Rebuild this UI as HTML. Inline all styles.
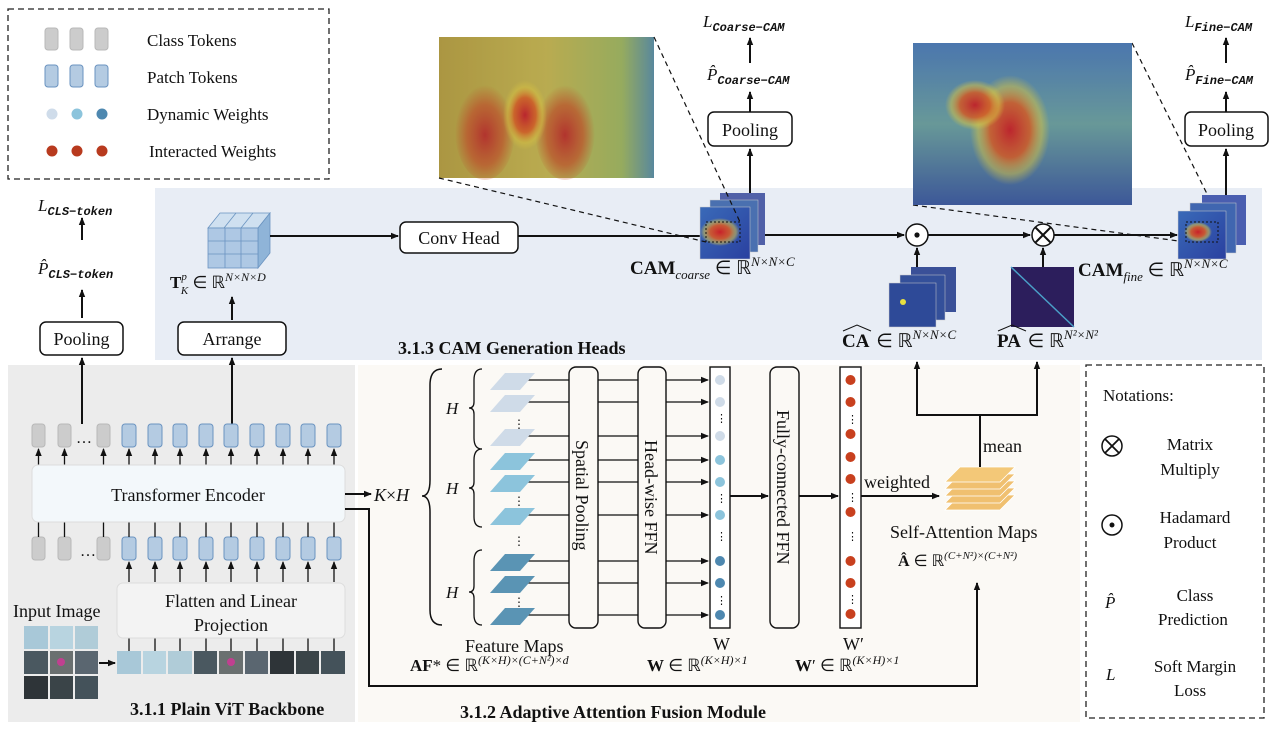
<!DOCTYPE html>
<html><head><meta charset="utf-8"><style>
html,body{margin:0;padding:0;background:#fff}
svg{display:block}
text{font-family:"Liberation Serif",serif;fill:#111}
.b{font-weight:bold}
.i{font-style:italic}
</style></head><body>
<svg width="1272" height="731" viewBox="0 0 1272 731" xmlns="http://www.w3.org/2000/svg">
<defs>
<marker id="ah" markerWidth="8" markerHeight="8" refX="7" refY="4" orient="auto" markerUnits="userSpaceOnUse">
<path d="M0,0.8 L8,4 L0,7.2 Z" fill="#111"/></marker>
<radialGradient id="hotL" cx="0.5" cy="0.55" r="0.5"><stop offset="0" stop-color="#c0302a"/><stop offset="0.6" stop-color="#c85a2a" stop-opacity="0.8"/><stop offset="1" stop-color="#c85a2a" stop-opacity="0"/></radialGradient>
<radialGradient id="hotR" cx="0.5" cy="0.5" r="0.5"><stop offset="0" stop-color="#c8202a"/><stop offset="0.5" stop-color="#e05a20" stop-opacity="0.85"/><stop offset="0.8" stop-color="#e8d040" stop-opacity="0.5"/><stop offset="1" stop-color="#e8d040" stop-opacity="0"/></radialGradient>
<linearGradient id="bgL" x1="0" y1="0" x2="1" y2="0"><stop offset="0" stop-color="#b8a040"/><stop offset="0.5" stop-color="#c8b850"/><stop offset="0.85" stop-color="#a0b860"/><stop offset="1" stop-color="#5a90a8"/></linearGradient>
<linearGradient id="bgR" x1="0" y1="0" x2="0" y2="1"><stop offset="0" stop-color="#4a7ab8"/><stop offset="0.5" stop-color="#6aa0a0"/><stop offset="1" stop-color="#3a58a0"/></linearGradient>
<linearGradient id="cam" x1="0" y1="0" x2="1" y2="1"><stop offset="0" stop-color="#3a6ab8"/><stop offset="1" stop-color="#2a40a0"/></linearGradient>
</defs>

<rect x="8" y="9" width="321" height="170" fill="none" stroke="#222" stroke-width="1.3" stroke-dasharray="6,4"/>
<g fill="#cccccc" stroke="#b8b8b8"><rect x="45" y="28" width="13" height="22" rx="3"/><rect x="70" y="28" width="13" height="22" rx="3"/><rect x="95" y="28" width="13" height="22" rx="3"/></g>
<g fill="#b4cbe2" stroke="#6a93c0"><rect x="45" y="65" width="13" height="22" rx="3"/><rect x="70" y="65" width="13" height="22" rx="3"/><rect x="95" y="65" width="13" height="22" rx="3"/></g>
<circle cx="52" cy="114" r="5.5" fill="#cfdcea"/><circle cx="77" cy="114" r="5.5" fill="#8cc4dc"/><circle cx="102" cy="114" r="5.5" fill="#4e88b0"/>
<circle cx="52" cy="151" r="5.5" fill="#b83a1e"/><circle cx="77" cy="151" r="5.5" fill="#b83a1e"/><circle cx="102" cy="151" r="5.5" fill="#b83a1e"/>
<g font-size="17"><text x="147" y="46">Class Tokens</text><text x="147" y="83">Patch Tokens</text><text x="147" y="120">Dynamic Weights</text><text x="149" y="157">Interacted Weights</text></g>

<rect x="155" y="188" width="1107" height="172" fill="#e8edf5"/>
<rect x="8" y="365" width="347" height="357" fill="#ececec"/>
<rect x="358" y="365" width="722" height="357" fill="#fbf9f5"/>
<rect x="1086" y="365" width="178" height="353" fill="none" stroke="#222" stroke-width="1.3" stroke-dasharray="6,4"/>

<text x="38" y="211" font-size="17" class="i">L<tspan font-size="12" dy="4" font-family="Liberation Mono" class="b">CLS−token</tspan></text>
<line x1="82" y1="240" x2="82" y2="218" stroke="#111" stroke-width="2" marker-end="url(#ah)"/>
<text x="38" y="274" font-size="17" class="i">P̂<tspan font-size="12" dy="4" font-family="Liberation Mono" class="b">CLS−token</tspan></text>
<line x1="82" y1="318" x2="82" y2="290" stroke="#111" stroke-width="2" marker-end="url(#ah)"/>
<rect x="40" y="322" width="83" height="33" rx="6" fill="#fff" stroke="#111" stroke-width="1.5"/>
<text x="81.5" y="345" font-size="18" text-anchor="middle">Pooling</text>
<line x1="82" y1="424" x2="82" y2="358" stroke="#111" stroke-width="2" marker-end="url(#ah)"/>

<rect x="178" y="322" width="108" height="33" rx="6" fill="#fff" stroke="#111" stroke-width="1.5"/>
<text x="232" y="345" font-size="18" text-anchor="middle">Arrange</text>
<line x1="232" y1="424" x2="232" y2="358" stroke="#111" stroke-width="2" marker-end="url(#ah)"/>
<line x1="232" y1="320" x2="232" y2="297" stroke="#111" stroke-width="2" marker-end="url(#ah)"/>
<g stroke="#6a93c0" stroke-width="0.8">
<polygon points="208,228 220,213 270,213 258,228" fill="#cfe0f0"/>
<polygon points="258,228 270,213 270,253 258,268" fill="#8fb4d8"/>
<rect x="208" y="228" width="50" height="40" fill="#aec8e4"/>
<line x1="225" y1="228" x2="225" y2="268"/><line x1="241" y1="228" x2="241" y2="268"/>
<line x1="208" y1="241" x2="258" y2="241"/><line x1="208" y1="254" x2="258" y2="254"/>
<line x1="224" y1="228" x2="236" y2="213"/><line x1="241" y1="228" x2="253" y2="213"/>
</g>
<text x="170" y="288" font-size="17"><tspan class="b">T</tspan><tspan font-size="11" dy="-8" class="i">p</tspan><tspan font-size="11" dy="14" dx="-6" class="i">K</tspan><tspan dy="-6"> ∈ ℝ</tspan><tspan font-size="12" dy="-7" class="i">N×N×D</tspan></text>
<line x1="270" y1="236" x2="398" y2="236" stroke="#111" stroke-width="2" marker-end="url(#ah)"/>
<rect x="400" y="222" width="118" height="31" rx="6" fill="#fff" stroke="#111" stroke-width="1.5"/>
<text x="459" y="244" font-size="18" text-anchor="middle">Conv Head</text>
<line x1="518" y1="236" x2="700" y2="236" stroke="#111" stroke-width="2"/>

<rect x="439" y="37" width="215" height="141" fill="url(#bgL)"/>
<ellipse cx="485" cy="130" rx="30" ry="50" fill="url(#hotL)"/>
<ellipse cx="565" cy="130" rx="30" ry="50" fill="url(#hotL)"/>
<ellipse cx="525" cy="115" rx="22" ry="35" fill="url(#hotR)"/>
<rect x="439" y="37" width="215" height="141" fill="#555" opacity="0.12"/>

<rect x="720" y="193" width="45" height="52" fill="#5060a8"/>
<rect x="710" y="200" width="48" height="52" fill="#4a70b0" stroke="#ccc" stroke-width="0.5"/>
<rect x="700" y="207" width="50" height="52" fill="url(#cam)" stroke="#ccc" stroke-width="0.5"/>
<ellipse cx="720" cy="232" rx="20" ry="14" fill="url(#hotR)"/>
<rect x="706" y="222" width="34" height="20" fill="none" stroke="#111" stroke-dasharray="2,2"/>
<g stroke="#111" stroke-width="1.2" stroke-dasharray="5,4" fill="none">
<line x1="439" y1="178" x2="706" y2="242"/><line x1="654" y1="37" x2="740" y2="222"/>
<line x1="913" y1="205" x2="1186" y2="242"/><line x1="1132" y1="43" x2="1220" y2="220"/>
</g>
<text x="630" y="274" font-size="19"><tspan class="b">CAM</tspan><tspan font-size="13" dy="5" class="i">coarse</tspan><tspan dy="-5"> ∈ ℝ</tspan><tspan font-size="13" dy="-8" class="i">N×N×C</tspan></text>

<line x1="750" y1="193" x2="750" y2="149" stroke="#111" stroke-width="2" marker-end="url(#ah)"/>
<rect x="708" y="112" width="84" height="34" rx="6" fill="#fff" stroke="#111" stroke-width="1.5"/>
<text x="750" y="136" font-size="18" text-anchor="middle">Pooling</text>
<line x1="750" y1="112" x2="750" y2="92" stroke="#111" stroke-width="2" marker-end="url(#ah)"/>
<text x="707" y="80" font-size="17" class="i">P̂<tspan font-size="12" dy="4" font-family="Liberation Mono" class="b">Coarse−CAM</tspan></text>
<line x1="750" y1="63" x2="750" y2="38" stroke="#111" stroke-width="2" marker-end="url(#ah)"/>
<text x="703" y="27" font-size="17" class="i">L<tspan font-size="12" dy="4" font-family="Liberation Mono" class="b">Coarse−CAM</tspan></text>

<line x1="765" y1="235" x2="904" y2="235" stroke="#111" stroke-width="2" marker-end="url(#ah)"/>
<circle cx="917" cy="235" r="11" fill="#fff" stroke="#111" stroke-width="1.5"/><circle cx="917" cy="235" r="2.6" fill="#111"/>
<line x1="928" y1="235" x2="1030" y2="235" stroke="#111" stroke-width="2" marker-end="url(#ah)"/>
<circle cx="1043" cy="235" r="11" fill="#fff" stroke="#111" stroke-width="1.5"/>
<path d="M1035,227 L1051,243 M1051,227 L1035,243" stroke="#111" stroke-width="2"/>
<line x1="1054" y1="235" x2="1177" y2="235" stroke="#111" stroke-width="2" marker-end="url(#ah)"/>
<line x1="917" y1="267" x2="917" y2="248" stroke="#111" stroke-width="2" marker-end="url(#ah)"/>
<line x1="1043" y1="267" x2="1043" y2="248" stroke="#111" stroke-width="2" marker-end="url(#ah)"/>

<rect x="911" y="267" width="45" height="45" fill="#3a5098"/>
<rect x="900" y="275" width="45" height="45" fill="#34509a" stroke="#ccc" stroke-width="0.5"/>
<rect x="889" y="283" width="47" height="44" fill="#2e4a98" stroke="#ccc" stroke-width="0.5"/>
<circle cx="903" cy="302" r="3" fill="#e8e040"/>
<rect x="1011" y="267" width="63" height="60" fill="#2c1e5c"/>
<line x1="1011" y1="267" x2="1074" y2="327" stroke="#4aa0c8" stroke-width="1.5"/>
<text x="842" y="347" font-size="19"><tspan class="b">CA</tspan><tspan dx="2"> ∈ ℝ</tspan><tspan font-size="13" dy="-8" class="i">N×N×C</tspan></text>
<path d="M843,331 L857,325 L871,331" fill="none" stroke="#111" stroke-width="1"/>
<text x="997" y="347" font-size="19"><tspan class="b">PA</tspan><tspan dx="2"> ∈ ℝ</tspan><tspan font-size="13" dy="-8" class="i">N²×N²</tspan></text>
<path d="M998,331 L1012,325 L1026,331" fill="none" stroke="#111" stroke-width="1"/>

<rect x="913" y="43" width="219" height="162" fill="url(#bgR)"/>
<ellipse cx="1010" cy="130" rx="40" ry="55" fill="url(#hotR)"/>
<ellipse cx="975" cy="105" rx="30" ry="25" fill="url(#hotR)"/>
<rect x="913" y="43" width="219" height="162" fill="#555" opacity="0.1"/>

<rect x="1202" y="195" width="44" height="50" fill="#4a5eb0"/>
<rect x="1190" y="203" width="46" height="50" fill="#4066b0" stroke="#ccc" stroke-width="0.5"/>
<rect x="1178" y="211" width="48" height="48" fill="url(#cam)" stroke="#ccc" stroke-width="0.5"/>
<ellipse cx="1198" cy="232" rx="14" ry="10" fill="url(#hotR)"/>
<rect x="1186" y="222" width="32" height="20" fill="none" stroke="#111" stroke-dasharray="2,2"/>
<text x="1078" y="276" font-size="19"><tspan class="b">CAM</tspan><tspan font-size="13" dy="5" class="i">fine</tspan><tspan dy="-5"> ∈ ℝ</tspan><tspan font-size="13" dy="-8" class="i">N×N×C</tspan></text>
<line x1="1226" y1="195" x2="1226" y2="149" stroke="#111" stroke-width="2" marker-end="url(#ah)"/>
<rect x="1185" y="112" width="83" height="34" rx="6" fill="#fff" stroke="#111" stroke-width="1.5"/>
<text x="1226" y="136" font-size="18" text-anchor="middle">Pooling</text>
<line x1="1226" y1="112" x2="1226" y2="92" stroke="#111" stroke-width="2" marker-end="url(#ah)"/>
<text x="1185" y="80" font-size="17" class="i">P̂<tspan font-size="12" dy="4" font-family="Liberation Mono" class="b">Fine−CAM</tspan></text>
<line x1="1226" y1="63" x2="1226" y2="38" stroke="#111" stroke-width="2" marker-end="url(#ah)"/>
<text x="1185" y="27" font-size="17" class="i">L<tspan font-size="12" dy="4" font-family="Liberation Mono" class="b">Fine−CAM</tspan></text>

<text x="398" y="354" font-size="18" class="b">3.1.3 CAM Generation Heads</text>

<g fill="#cccccc" stroke="#b8b8b8">
<rect x="32" y="424" width="13" height="23" rx="3"/><rect x="58" y="424" width="13" height="23" rx="3"/><rect x="97" y="424" width="13" height="23" rx="3"/>
<rect x="32" y="537" width="13" height="23" rx="3"/><rect x="58" y="537" width="13" height="23" rx="3"/><rect x="97" y="537" width="13" height="23" rx="3"/>
</g>
<text x="76" y="443" font-size="16">…</text><text x="80" y="556" font-size="16">…</text>
<g fill="#b4cbe2" stroke="#6a93c0">
<rect x="122" y="424" width="14" height="23" rx="3"/><rect x="148" y="424" width="14" height="23" rx="3"/><rect x="173" y="424" width="14" height="23" rx="3"/><rect x="199" y="424" width="14" height="23" rx="3"/><rect x="224" y="424" width="14" height="23" rx="3"/><rect x="250" y="424" width="14" height="23" rx="3"/><rect x="276" y="424" width="14" height="23" rx="3"/><rect x="301" y="424" width="14" height="23" rx="3"/><rect x="327" y="424" width="14" height="23" rx="3"/>
<rect x="122" y="537" width="14" height="23" rx="3"/><rect x="148" y="537" width="14" height="23" rx="3"/><rect x="173" y="537" width="14" height="23" rx="3"/><rect x="199" y="537" width="14" height="23" rx="3"/><rect x="224" y="537" width="14" height="23" rx="3"/><rect x="250" y="537" width="14" height="23" rx="3"/><rect x="276" y="537" width="14" height="23" rx="3"/><rect x="301" y="537" width="14" height="23" rx="3"/><rect x="327" y="537" width="14" height="23" rx="3"/>
</g>
<g stroke="#111" stroke-width="1.3" marker-end="url(#ah)">
<line x1="38.5" y1="465" x2="38.5" y2="449"/><line x1="64.5" y1="465" x2="64.5" y2="449"/><line x1="103.5" y1="465" x2="103.5" y2="449"/>
<line x1="129" y1="465" x2="129" y2="449"/><line x1="155" y1="465" x2="155" y2="449"/><line x1="180" y1="465" x2="180" y2="449"/><line x1="206" y1="465" x2="206" y2="449"/><line x1="231" y1="465" x2="231" y2="449"/><line x1="257" y1="465" x2="257" y2="449"/><line x1="283" y1="465" x2="283" y2="449"/><line x1="308" y1="465" x2="308" y2="449"/><line x1="334" y1="465" x2="334" y2="449"/>
<line x1="129" y1="582" x2="129" y2="562"/><line x1="155" y1="582" x2="155" y2="562"/><line x1="180" y1="582" x2="180" y2="562"/><line x1="206" y1="582" x2="206" y2="562"/><line x1="231" y1="582" x2="231" y2="562"/><line x1="257" y1="582" x2="257" y2="562"/><line x1="283" y1="582" x2="283" y2="562"/><line x1="308" y1="582" x2="308" y2="562"/><line x1="334" y1="582" x2="334" y2="562"/>
</g>
<g stroke="#111" stroke-width="1.3">
<line x1="38.5" y1="522" x2="38.5" y2="537"/><line x1="64.5" y1="522" x2="64.5" y2="537"/><line x1="103.5" y1="522" x2="103.5" y2="537"/>
<line x1="129" y1="522" x2="129" y2="537"/><line x1="155" y1="522" x2="155" y2="537"/><line x1="180" y1="522" x2="180" y2="537"/><line x1="206" y1="522" x2="206" y2="537"/><line x1="231" y1="522" x2="231" y2="537"/><line x1="257" y1="522" x2="257" y2="537"/><line x1="283" y1="522" x2="283" y2="537"/><line x1="308" y1="522" x2="308" y2="537"/><line x1="334" y1="522" x2="334" y2="537"/>
<line x1="129" y1="638" x2="129" y2="651"/><line x1="155" y1="638" x2="155" y2="651"/><line x1="180" y1="638" x2="180" y2="651"/><line x1="206" y1="638" x2="206" y2="651"/><line x1="231" y1="638" x2="231" y2="651"/><line x1="257" y1="638" x2="257" y2="651"/><line x1="283" y1="638" x2="283" y2="651"/><line x1="308" y1="638" x2="308" y2="651"/><line x1="334" y1="638" x2="334" y2="651"/>
</g>
<rect x="32" y="465" width="313" height="57" rx="6" fill="#f3f8fb" stroke="#ddd"/>
<text x="188" y="501" font-size="18" text-anchor="middle">Transformer Encoder</text>
<rect x="117" y="583" width="228" height="55" rx="6" fill="#f3f3f3" stroke="#ddd"/>
<text x="231" y="607" font-size="18" text-anchor="middle">Flatten and Linear</text>
<text x="231" y="631" font-size="18" text-anchor="middle">Projection</text>
<g>
<rect x="117" y="651" width="24" height="23" fill="#a8c8d8"/><rect x="143" y="651" width="23" height="23" fill="#b8d4e0"/><rect x="168" y="651" width="24" height="23" fill="#b0ccd8"/>
<rect x="194" y="651" width="23" height="23" fill="#4a5860"/><rect x="219" y="651" width="24" height="23" fill="#6a7070"/><rect x="245" y="651" width="23" height="23" fill="#5a6670"/>
<rect x="270" y="651" width="24" height="23" fill="#2e3438"/><rect x="296" y="651" width="23" height="23" fill="#3a4448"/><rect x="321" y="651" width="24" height="23" fill="#44525a"/>
<circle cx="231" cy="662" r="4" fill="#c04090"/>
</g>
<text x="13" y="617" font-size="18">Input Image</text>
<g>
<rect x="24" y="626" width="24" height="23" fill="#a8c8d8"/><rect x="50" y="626" width="23" height="23" fill="#b8d4e0"/><rect x="75" y="626" width="23" height="23" fill="#b0ccd8"/>
<rect x="24" y="651" width="24" height="23" fill="#4a5860"/><rect x="50" y="651" width="23" height="23" fill="#6a7070"/><rect x="75" y="651" width="23" height="23" fill="#5a6670"/>
<rect x="24" y="676" width="24" height="23" fill="#2e3438"/><rect x="50" y="676" width="23" height="23" fill="#3a4448"/><rect x="75" y="676" width="23" height="23" fill="#44525a"/>
<circle cx="61" cy="662" r="4" fill="#c04090"/>
</g>
<line x1="99" y1="663" x2="115" y2="663" stroke="#111" stroke-width="2" marker-end="url(#ah)"/>
<text x="130" y="715" font-size="18" class="b">3.1.1 Plain ViT Backbone</text>

<line x1="345" y1="494" x2="371" y2="494" stroke="#111" stroke-width="2" marker-end="url(#ah)"/>
<text x="374" y="501" font-size="18" class="i">K<tspan font-style="normal">×</tspan>H</text>
<polyline points="345,509 369,509 369,686 977,686 977,583" fill="none" stroke="#111" stroke-width="2" marker-end="url(#ah)"/>

<path d="M442,369 Q430,369 430,385 L430,480 Q430,496 422,496 Q430,496 430,512 L430,610 Q430,625 442,625" fill="none" stroke="#111" stroke-width="1.5"/>
<g fill="none" stroke="#111" stroke-width="1.3">
<path d="M482,369 Q474,369 474,380 L474,402 Q474,408 469,408 Q474,408 474,414 L474,438 Q474,449 482,449"/>
<path d="M482,449 Q474,449 474,460 L474,482 Q474,488 469,488 Q474,488 474,494 L474,517 Q474,527 482,527"/>
<path d="M482,550 Q474,550 474,561 L474,586 Q474,592 469,592 Q474,592 474,598 L474,615 Q474,625 482,625"/>
</g>
<g font-size="17" class="i"><text x="446" y="414">H</text><text x="446" y="494">H</text><text x="446" y="598">H</text></g>

<g stroke="#111" stroke-width="1.3" marker-end="url(#ah)">
<line x1="525" y1="380" x2="708" y2="380"/><line x1="525" y1="402" x2="708" y2="402"/><line x1="525" y1="436" x2="708" y2="436"/>
<line x1="525" y1="460" x2="708" y2="460"/><line x1="525" y1="482" x2="708" y2="482"/><line x1="525" y1="515" x2="708" y2="515"/>
<line x1="525" y1="561" x2="708" y2="561"/><line x1="525" y1="583" x2="708" y2="583"/><line x1="525" y1="615" x2="708" y2="615"/>
</g>
<g stroke="none">
<polygon points="490,390 505,373 535,373 520,390" fill="#cfdbe8"/><polygon points="490,412 505,395 535,395 520,412" fill="#cfdbe8"/><polygon points="490,446 505,429 535,429 520,446" fill="#cfdbe8"/>
<polygon points="490,470 505,453 535,453 520,470" fill="#8cc4dc"/><polygon points="490,492 505,475 535,475 520,492" fill="#8cc4dc"/><polygon points="490,525 505,508 535,508 520,525" fill="#8cc4dc"/>
<polygon points="490,571 505,554 535,554 520,571" fill="#5a94b4"/><polygon points="490,593 505,576 535,576 520,593" fill="#5a94b4"/><polygon points="490,625 505,608 535,608 520,625" fill="#5a94b4"/>
</g>
<g font-size="12" fill="#111"><text x="513" y="428">⋮</text><text x="513" y="505">⋮</text><text x="513" y="545">⋮</text><text x="513" y="606">⋮</text></g>

<rect x="569" y="367" width="29" height="261" rx="7" fill="#fbf9f5" stroke="#111" stroke-width="1.4"/>
<rect x="638" y="367" width="28" height="261" rx="7" fill="#fbf9f5" stroke="#111" stroke-width="1.4"/>
<rect x="770" y="367" width="29" height="261" rx="7" fill="#fbf9f5" stroke="#111" stroke-width="1.4"/>
<text transform="translate(576,440) rotate(90)" font-size="18">Spatial Pooling</text>
<text transform="translate(645,440) rotate(90)" font-size="18">Head-wise FFN</text>
<text transform="translate(777,410) rotate(90)" font-size="18">Fully-connected FFN</text>

<rect x="710" y="367" width="20" height="261" fill="#fff" stroke="#111" stroke-width="1.4"/>
<g fill="#cfdbe8"><circle cx="720" cy="380" r="5"/><circle cx="720" cy="402" r="5"/><circle cx="720" cy="436" r="5"/></g>
<g fill="#8cc4dc"><circle cx="720" cy="460" r="5"/><circle cx="720" cy="482" r="5"/><circle cx="720" cy="515" r="5"/></g>
<g fill="#4e88b0"><circle cx="720" cy="561" r="5"/><circle cx="720" cy="583" r="5"/><circle cx="720" cy="615" r="5"/></g>
<g font-size="11"><text x="716" y="422">⋮</text><text x="716" y="502">⋮</text><text x="716" y="540">⋮</text><text x="716" y="604">⋮</text></g>
<line x1="730" y1="496" x2="768" y2="496" stroke="#111" stroke-width="2" marker-end="url(#ah)"/>
<line x1="799" y1="496" x2="838" y2="496" stroke="#111" stroke-width="2" marker-end="url(#ah)"/>
<rect x="840" y="367" width="21" height="261" fill="#fff" stroke="#111" stroke-width="1.4"/>
<g fill="#c8401e"><circle cx="850.5" cy="380" r="5"/><circle cx="850.5" cy="402" r="5"/><circle cx="850.5" cy="434" r="5"/><circle cx="850.5" cy="457" r="5"/><circle cx="850.5" cy="479" r="5"/><circle cx="850.5" cy="512" r="5"/><circle cx="850.5" cy="561" r="5"/><circle cx="850.5" cy="583" r="5"/><circle cx="850.5" cy="614" r="5"/></g>
<g font-size="11"><text x="847" y="423">⋮</text><text x="847" y="501">⋮</text><text x="847" y="540">⋮</text><text x="847" y="603">⋮</text></g>
<line x1="861" y1="496" x2="939" y2="496" stroke="#111" stroke-width="2" marker-end="url(#ah)"/>
<text x="864" y="488" font-size="18">weighted</text>
<g stroke="#fff" stroke-width="0.8">
<polygon points="945,510 960,495 1015,495 1000,510" fill="#f0c070"/>
<polygon points="945,503 960,488 1015,488 1000,503" fill="#f0c070"/>
<polygon points="945,496 960,481 1015,481 1000,496" fill="#f0c070"/>
<polygon points="945,489 960,474 1015,474 1000,489" fill="#f0c070"/>
<polygon points="945,482 960,467 1015,467 1000,482" fill="#f3c878"/>
</g>
<polyline points="980,467 980,415" fill="none" stroke="#111" stroke-width="2"/>
<line x1="916" y1="415" x2="1038" y2="415" stroke="#111" stroke-width="2"/>
<line x1="917" y1="415" x2="917" y2="362" stroke="#111" stroke-width="2" marker-end="url(#ah)"/>
<line x1="1037" y1="415" x2="1037" y2="362" stroke="#111" stroke-width="2" marker-end="url(#ah)"/>
<text x="983" y="452" font-size="18">mean</text>
<text x="890" y="538" font-size="18">Self-Attention Maps</text>
<text x="898" y="566" font-size="16"><tspan class="b">Â</tspan> ∈ ℝ<tspan font-size="11" dy="-7" class="i">(C+N²)×(C+N²)</tspan></text>

<text x="465" y="652" font-size="18">Feature Maps</text>
<text x="713" y="650" font-size="18">W</text>
<text x="843" y="650" font-size="18">W′</text>
<text x="410" y="671" font-size="17"><tspan class="b">AF</tspan>* ∈ ℝ<tspan font-size="12" dy="-7" class="i">(K×H)×(C+N²)×d</tspan></text>
<text x="647" y="671" font-size="17"><tspan class="b">W</tspan> ∈ ℝ<tspan font-size="12" dy="-7" class="i">(K×H)×1</tspan></text>
<text x="795" y="671" font-size="17"><tspan class="b">W</tspan>′ ∈ ℝ<tspan font-size="12" dy="-7" class="i">(K×H)×1</tspan></text>
<text x="460" y="718" font-size="18" class="b">3.1.2 Adaptive Attention Fusion Module</text>

<g font-size="17">
<text x="1103" y="401">Notations:</text>
<circle cx="1112" cy="446" r="10" fill="none" stroke="#111" stroke-width="1.5"/><path d="M1105,439 L1119,453 M1119,439 L1105,453" stroke="#111" stroke-width="1.8"/>
<g text-anchor="middle">
<text x="1190" y="450">Matrix</text><text x="1190" y="475">Multiply</text>
<text x="1195" y="523">Hadamard</text><text x="1190" y="548">Product</text>
<text x="1195" y="601">Class</text><text x="1193" y="625">Prediction</text>
<text x="1195" y="672">Soft Margin</text><text x="1190" y="696">Loss</text>
</g>
<circle cx="1112" cy="525" r="10" fill="none" stroke="#111" stroke-width="1.5"/><circle cx="1112" cy="525" r="2.5" fill="#111"/>
<text x="1105" y="608" class="i">P̂</text>
<text x="1106" y="680" class="i">L</text>
</g>
</svg>
</body></html>
